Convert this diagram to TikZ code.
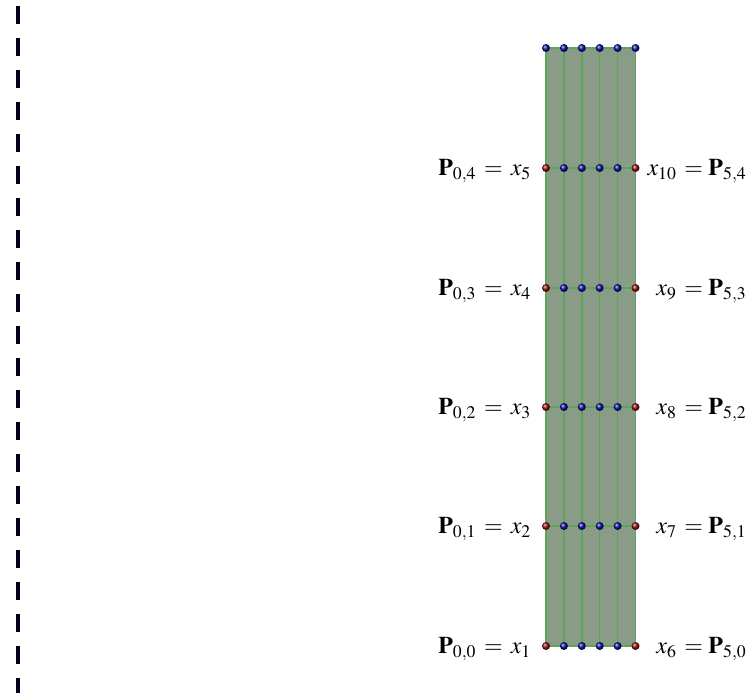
\documentclass[tikz,border=0pt]{standalone}
\usepackage{mathptmx}
\usepackage{fontspec}
\setmainfont{Liberation Serif}
\usepackage{tikz}
\definecolor{cellgreen}{HTML}{8A9C87}
\definecolor{gridgreen}{HTML}{5AA857}
\definecolor{dotred}{HTML}{8B0A0A}
\definecolor{dotblue}{HTML}{0A0A9A}
\tikzset{
  dashline/.style={line width=4pt,dash pattern=on 18pt off 14pt,dash phase=26pt,color=black!90!blue},
  gridline/.style={gridgreen,line width=1.4pt},
  bluedot/.style={circle,inner sep=0pt,minimum size=8pt,shading=ball,ball color=dotblue},
  reddot/.style={circle,inner sep=0pt,minimum size=8pt,shading=ball,ball color=dotred},
  lbl/.style={font=\fontsize{24}{28}\selectfont,inner sep=0pt}
}

\begin{document}
\begin{tikzpicture}[x=1pt,y=-1pt]
\useasboundingbox (0,0) rectangle (750,693);
\coordinate (dtop) at (18,0);
\coordinate (dbot) at (18,693);
\draw[dashline] (dtop) -- (dbot);
% control points of the patch
\foreach \j/\y in {0/646,1/526,2/407,3/288,4/168,5/48}{
  \foreach \i in {0,...,5}{\coordinate (p\i\j) at (546+17.9*\i,\y);}
}
\fill[cellgreen] (p00) rectangle (p55);
\foreach \i in {0,...,5}{\draw[gridline] (p\i0) -- (p\i5);}
\foreach \j in {0,...,5}{\draw[gridline] (p0\j) -- (p5\j);}
\foreach \i in {0,...,5}{\node[bluedot] (d\i5) at (p\i5) {};}
\foreach \j in {0,...,4}{
  \foreach \i in {1,...,4}{\node[bluedot] (d\i\j) at (p\i\j) {};}
  \node[reddot] (d0\j) at (p0\j) {};
  \node[reddot] (d5\j) at (p5\j) {};
}
% labels
\foreach \j [evaluate=\j as \k using int(\j+1), evaluate=\j as \m using int(\j+6)] in {0,...,4}{
  \node[lbl,anchor=east] (l\j) at ([xshift=-15pt,yshift=-3pt]p0\j) {$\mathbf{P}_{0,\j}\,=\,x_{\k}$};
  \node[lbl,anchor=east] (r\j) at ([xshift=111pt,yshift=-3pt]p5\j) {$x_{\m}\,=\mathbf{P}_{5,\j}$};
}
\end{tikzpicture}
\end{document}
